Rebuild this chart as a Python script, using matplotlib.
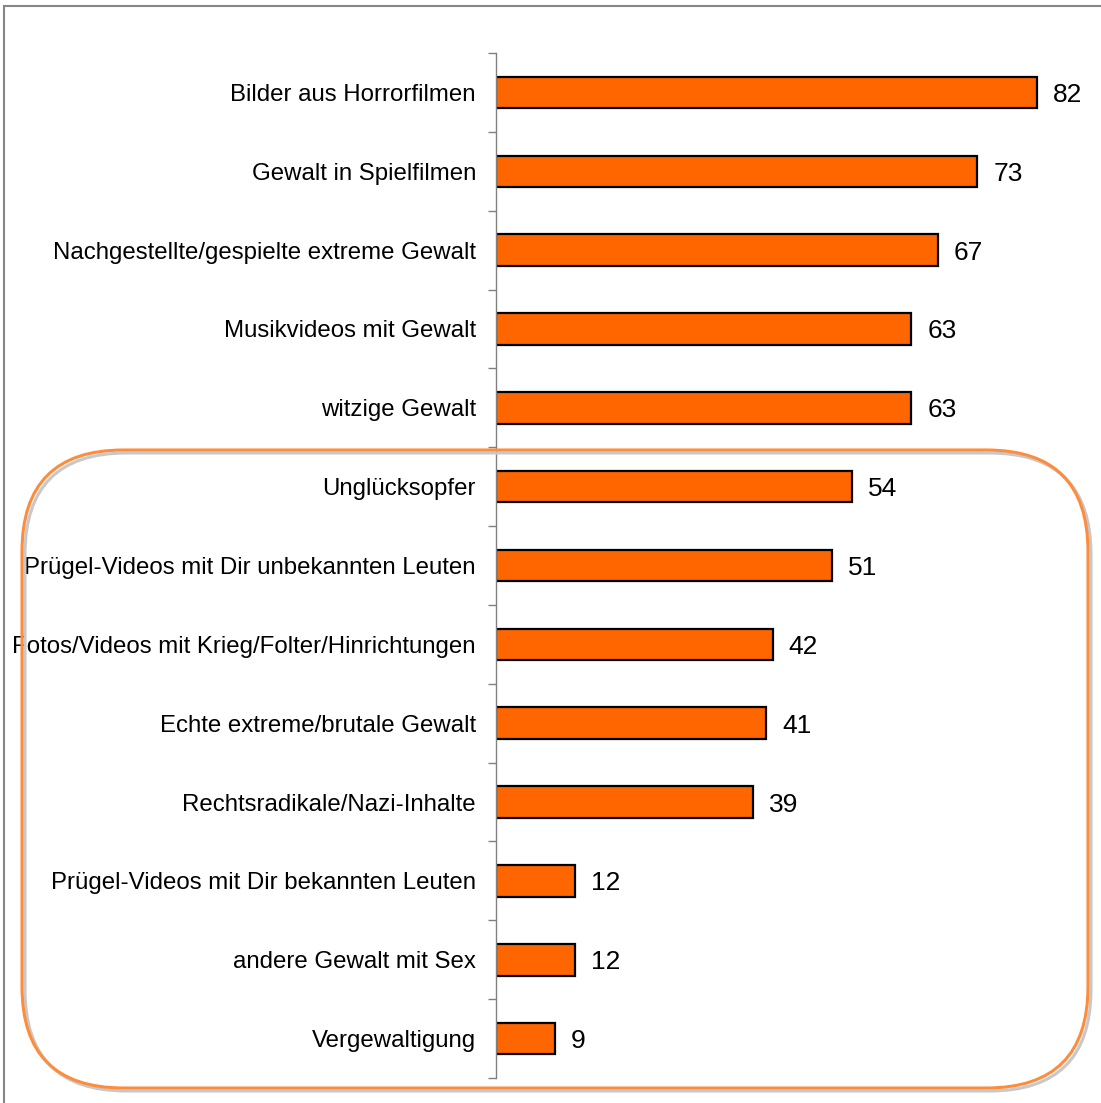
import matplotlib.pyplot as plt
from matplotlib.patches import FancyBboxPatch, Rectangle

categories = [
    "Bilder aus Horrorfilmen",
    "Gewalt in Spielfilmen",
    "Nachgestellte/gespielte extreme Gewalt",
    "Musikvideos mit Gewalt",
    "witzige Gewalt",
    "Unglücksopfer",
    "Prügel-Videos mit Dir unbekannten Leuten",
    "Fotos/Videos mit Krieg/Folter/Hinrichtungen",
    "Echte extreme/brutale Gewalt",
    "Rechtsradikale/Nazi-Inhalte",
    "Prügel-Videos mit Dir bekannten Leuten",
    "andere Gewalt mit Sex",
    "Vergewaltigung",
]
values = [82, 73, 67, 63, 63, 54, 51, 42, 41, 39, 12, 12, 9]

plt.rcParams["font.family"] = ["Liberation Sans", "DejaVu Sans"]

W, H = 1101, 1103
fig = plt.figure(figsize=(W / 100, H / 100), dpi=100)

# outer chart border
fig.patches.append(Rectangle((4 / W, -0.1), 1.2, 1 - 6 / H + 0.1,
                             transform=fig.transFigure, fill=False,
                             edgecolor="#868686", linewidth=1.5))

# rounded highlight box (shadow + orange outline)
bx0, by0, bx1, by1 = 22, 450, 1088, 1088
for dx, dy, col, z in [(3, 3, "#C8C8C8", 0), (0, 0, "#FF8C3A", 1)]:
    fig.patches.append(FancyBboxPatch(
        ((bx0 + dx) / W, 1 - (by1 + dy) / H),
        (bx1 - bx0) / W, (by1 - by0) / H,
        boxstyle="round,pad=0,rounding_size=0.092",
        transform=fig.transFigure, fill=False,
        edgecolor=col, linewidth=2.2, zorder=z))

ax = fig.add_axes([496 / W, 25 / H, 600 / W, 1025 / H])
ax.set_facecolor("none")

pos = list(range(len(categories)))
ax.barh(pos, values, height=0.4, color="#FF6600", edgecolor="black", linewidth=1.6)

for p, v in zip(pos, values):
    ax.text(v + 2.4, p, str(v), va="center_baseline", ha="left", fontsize=19)

ax.set_xlim(0, 91)
ax.set_ylim(len(categories) - 0.5, -0.5)
ax.set_yticks(pos)
ax.set_yticklabels(categories, fontsize=17.3, va="center_baseline")
ax.set_yticks([i - 0.5 for i in range(len(categories) + 1)], minor=True)
ax.tick_params(axis="y", which="major", length=0, pad=14.4)
ax.tick_params(axis="y", which="minor", length=6, color="#808080", width=1)
ax.set_xticks([])
for s in ["top", "right", "bottom"]:
    ax.spines[s].set_visible(False)
ax.spines["left"].set_color("#808080")
ax.spines["left"].set_linewidth(1)

fig.savefig("out.png", dpi=100)
